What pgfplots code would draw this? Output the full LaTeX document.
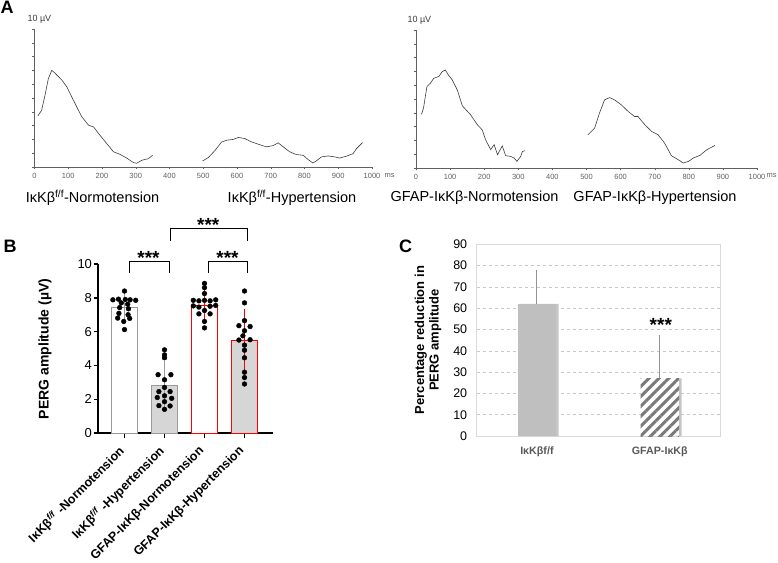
\documentclass[border=0pt]{standalone}
\usepackage{pgfplots}
\pgfplotsset{compat=1.18}
\usepackage{fontspec}
\setmainfont{Liberation Sans}
\usetikzlibrary{patterns.meta}

\definecolor{agray}{HTML}{606060}
\definecolor{tgray}{HTML}{3A3A3A}
\definecolor{curve}{HTML}{3C3C3C}
\definecolor{barB}{HTML}{D6D6D6}
\definecolor{edgeB}{HTML}{9A9A9A}
\definecolor{redB}{HTML}{FF0000}
\definecolor{barC}{HTML}{BFBFBF}
\definecolor{gridC}{HTML}{C8C8C8}
\definecolor{frameC}{HTML}{D9D9D9}
\definecolor{labC}{HTML}{595959}
\definecolor{hatchC}{HTML}{7A7A7A}

\newcommand{\fs}[1]{\fontsize{#1}{#1}\selectfont}

\pgfplotstableread{
t v
10 3.7
21 4.1
32 5.3
41 6.4
51 7.0
61 6.8
81 6.3
96 5.8
115 4.85
140 3.64
160 3.03
175 2.9
194 2.3
214 1.7
234 1.1
253 0.92
273 0.65
293 0.32
303 0.27
318 0.49
337 0.6
350 0.85
}\normoA

\pgfplotstableread{
t v
498 0.44
515 0.68
535 1.2
554 1.8
569 1.94
589 2.0
604 2.14
623 2.06
643 1.82
663 1.65
687 1.46
707 1.55
722 1.75
737 1.46
756 1.1
776 0.9
796 0.85
811 0.53
825 0.29
835 0.44
850 0.73
870 0.8
890 0.73
904 0.65
924 0.78
944 0.97
954 1.33
972 1.77
}\hyperA

\pgfplotstableread{
t v
16 3.9
22 4.34
32 5.9
42 6.14
52 6.5
67 6.63
77 6.99
86 7.1
96 6.7
106 6.4
121 5.66
136 4.5
160 3.86
180 3.13
194 2.77
204 2.05
219 1.33
229 1.69
239 0.96
253 1.6
263 0.89
278 0.84
288 0.72
296 0.48
307 0.84
312 1.2
320 1.25
}\normoG

\pgfplotstableread{
t v
504 2.4
524 2.9
538 3.98
553 4.94
568 5.1
582 4.94
602 4.58
622 4.1
641 3.73
651 3.73
671 3.13
691 2.65
710 2.41
729 1.8
749 0.89
769 0.6
784 0.36
799 0.48
813 0.72
833 0.92
853 1.33
877 1.64
}\hyperG

\pgfplotstableread{
x y
0.00 8.40
-0.29 7.88
-0.15 7.92
0.02 7.90
0.14 7.88
0.28 7.85
-0.08 7.70
0.08 7.62
-0.12 7.42
0.10 7.35
-0.14 7.08
0.09 7.00
-0.17 6.80
0.13 6.78
-0.02 6.60
0.00 6.12
1.00 4.92
1.00 4.62
1.00 4.45
0.84 3.45
1.16 3.45
1.00 3.15
1.00 2.70
0.86 2.45
1.14 2.45
1.00 2.20
0.82 2.10
1.18 2.05
1.00 1.85
0.86 1.62
1.14 1.60
1.00 1.40
2.00 8.85
2.00 8.60
2.00 8.25
1.72 7.85
1.86 7.82
2.00 7.85
2.14 7.82
2.28 7.88
1.72 7.52
1.86 7.45
2.14 7.50
2.28 7.55
2.00 7.25
1.86 7.05
2.14 7.05
2.00 6.60
2.00 6.22
3.00 8.40
3.00 7.70
3.00 6.65
2.86 6.35
3.14 6.30
3.00 6.05
2.96 5.75
2.86 5.50
3.14 5.52
3.00 5.20
3.00 4.90
3.00 4.45
3.00 3.60
3.00 3.28
3.00 2.90
}\dotsB

\pgfplotsset{panelA/.style={
  scale only axis, height=138pt, anchor=south west,
  xmin=0, xmax=1000, ymin=0, ymax=10,
  axis lines*=left,
  axis line style={agray, line width=0.5pt},
  xtick={0,100,...,1000},
  xticklabels={0,100,200,300,400,500,600,700,800,900,1000},
  ytick={0,1,...,10}, yticklabels={},
  tick align=outside, major tick length=2.5pt,
  tick style={agray, line width=0.4pt},
  xticklabel style={font=\fs{7.5}, text=agray},
  /pgf/number format/assume math mode=true,
  clip=false,
}}

\begin{document}
\begin{tikzpicture}
\path[use as bounding box] (0pt,0pt) rectangle (778pt,562pt);

% ---------------- Panel A ----------------
\node[anchor=north west, inner sep=0pt, font=\bfseries\fs{18}] at (0.5pt,561pt) {A};

\begin{axis}[panelA, width=337.5pt, at={(34.5pt,395pt)}]
\addplot[curve, line width=0.6pt] table[x=t,y=v] {\normoA};
\addplot[curve, line width=0.6pt] table[x=t,y=v] {\hyperA};
\end{axis}
\node[anchor=west, font=\fs{9}, text=tgray] at (24pt,543pt) {10 µV};
\node[anchor=west, font=\fs{7.5}, text=agray] at (381pt,386pt) {ms};

\begin{axis}[panelA, width=341pt, at={(416pt,394pt)}]
\addplot[curve, line width=0.6pt] table[x=t,y=v] {\normoG};
\addplot[curve, line width=0.6pt] table[x=t,y=v] {\hyperG};
\end{axis}
\node[anchor=west, font=\fs{9}, text=tgray] at (404pt,542pt) {10 µV};
\node[anchor=west, font=\fs{7.5}, text=agray] at (763pt,386pt) {ms};

\node[font=\fs{14.5}] at (92.5pt,364pt) {IκKβ\textsuperscript{f/f}-Normotension};
\node[font=\fs{14.5}] at (292pt,364pt) {IκKβ\textsuperscript{f/f}-Hypertension};
\node[font=\fs{14.5}] at (474.5pt,364pt) {GFAP-IκKβ-Normotension};
\node[font=\fs{14.5}] at (655pt,364pt) {GFAP-IκKβ-Hypertension};

% ---------------- Panel B ----------------
\node[anchor=north west, inner sep=0pt, font=\bfseries\fs{18}] at (3.3pt,322pt) {B};

\begin{axis}[
  scale only axis, width=175pt, height=169pt, anchor=south west, at={(98pt,129pt)},
  xmin=-0.6625, xmax=3.7125, ymin=0, ymax=10,
  axis lines*=left,
  axis line style={black, line width=1.4pt},
  ytick={0,2,...,10}, xtick={0,1,2,3},
  xticklabels={IκKβ\textsuperscript{\textit{f/f}} -Normotension,
               IκKβ\textsuperscript{\textit{f/f}} -Hypertension,
               GFAP-IκKβ-Normotension,
               GFAP-IκKβ-Hypertension},
  tick align=outside, major tick length=4.5pt,
  tick style={black, line width=1.4pt},
  yticklabel style={font=\fs{13}, xshift=2pt},
  xticklabel style={font=\bfseries\fs{12.5}, rotate=45, anchor=east},
  xticklabel shift=9pt,
  /pgf/number format/assume math mode=true,
  clip=false,
]
\addplot[ybar, bar width=26pt, bar shift=0pt, fill=white, draw=edgeB, line width=0.9pt,
  error bars/.cd, y dir=both, y explicit,
  error bar style={edgeB, line width=0.9pt},
  error mark options={edgeB, line width=0.9pt, mark size=6.5pt}]
  coordinates {(0,7.4) +- (0,0.57)};
\addplot[ybar, bar width=26pt, bar shift=0pt, fill=barB, draw=edgeB, line width=0.9pt,
  error bars/.cd, y dir=both, y explicit,
  error bar style={edgeB, line width=0.9pt},
  error mark options={edgeB, line width=0.9pt, mark size=6.5pt}]
  coordinates {(1,2.8) +- (0,1.08)};
\addplot[ybar, bar width=26pt, bar shift=0pt, fill=white, draw=redB, line width=0.9pt,
  error bars/.cd, y dir=both, y explicit,
  error bar style={redB, line width=0.9pt},
  error mark options={redB, line width=0.9pt, mark size=6.5pt}]
  coordinates {(2,7.55) +- (0,0.69)};
\addplot[ybar, bar width=26pt, bar shift=0pt, fill=barB, draw=redB, line width=0.9pt,
  error bars/.cd, y dir=both, y explicit,
  error bar style={redB, line width=0.9pt},
  error mark options={redB, line width=0.9pt, mark size=6.5pt}]
  coordinates {(3,5.47) +- (0,1.48)};
\addplot[only marks, mark=*, mark size=2.4pt, black] table[x=x,y=y] {\dotsB};
\end{axis}

\node[rotate=90, font=\bfseries\fs{14}] at (45pt,213pt) {PERG amplitude (µV)};

% significance brackets
\draw[line width=1pt] (129.3pt,289pt) -- (129.3pt,300.3pt) -- (169.3pt,300.3pt) -- (169.3pt,289pt);
\draw[line width=1pt] (208pt,289pt) -- (208pt,300.3pt) -- (247pt,300.3pt) -- (247pt,289pt);
\draw[line width=1pt] (170pt,321.3pt) -- (170pt,333.7pt) -- (247pt,333.7pt) -- (247pt,321.3pt);
\node[anchor=base, inner sep=0pt, font=\bfseries\fs{19}] at (148.5pt,297pt) {***};
\node[anchor=base, inner sep=0pt, font=\bfseries\fs{19}] at (227.5pt,297pt) {***};
\node[anchor=base, inner sep=0pt, font=\bfseries\fs{19}] at (208.3pt,330pt) {***};

% ---------------- Panel C ----------------
\node[anchor=north west, inner sep=0pt, font=\bfseries\fs{18}] at (399pt,322pt) {C};

\begin{axis}[
  scale only axis, width=243.3pt, height=191.7pt, anchor=south west, at={(476.7pt,126pt)},
  xmin=-0.49, xmax=1.49, ymin=0, ymax=90,
  axis line style={frameC, line width=0.8pt},
  ytick={0,10,...,90}, xtick={0,1},
  xticklabels={IκKβf/f, GFAP-IκKβ},
  major tick length=0pt,
  ymajorgrids, grid style={gridC, dashed, line width=0.6pt},
  yticklabel style={font=\fs{12.5}, text=black, xshift=-6pt},
  xticklabel style={font=\bfseries\fs{10.7}, text=labC, yshift=-7pt},
  /pgf/number format/assume math mode=true,
  clip=false,
]
\addplot[ybar, bar width=38.5pt, bar shift=2.5pt, fill=gray!45, draw=none]
  coordinates {(0,62) (1,27)};
\addplot[ybar, bar width=38.5pt, bar shift=0pt, fill=barC, draw=none,
  error bars/.cd, y dir=plus, y explicit,
  error bar style={gray!85, line width=0.9pt},
  error mark options={gray!85, line width=0.9pt, mark size=3pt}]
  coordinates {(0,62) +- (0,14.5)};
\addplot[ybar, bar width=38.5pt, bar shift=0pt, fill=white, draw=none,
  error bars/.cd, y dir=plus, y explicit,
  error bar style={gray!85, line width=0.9pt},
  error mark options={gray!85, line width=0.9pt, mark size=3pt}]
  coordinates {(1,27) +- (0,19)};
\addplot[ybar, bar width=38.5pt, bar shift=0pt, draw=none,
  pattern={Lines[angle=45, distance=7pt, line width=3pt]}, pattern color=hatchC]
  coordinates {(1,27)};
\end{axis}

\node[anchor=base, inner sep=0pt, font=\bfseries\fs{19}] at (660.8pt,230pt) {***};
\node[rotate=90, align=center, font=\bfseries\fontsize{13}{14.3}\selectfont] at (428pt,222pt)
  {Percentage reduction in\\PERG amplitude};

\end{tikzpicture}
\end{document}
